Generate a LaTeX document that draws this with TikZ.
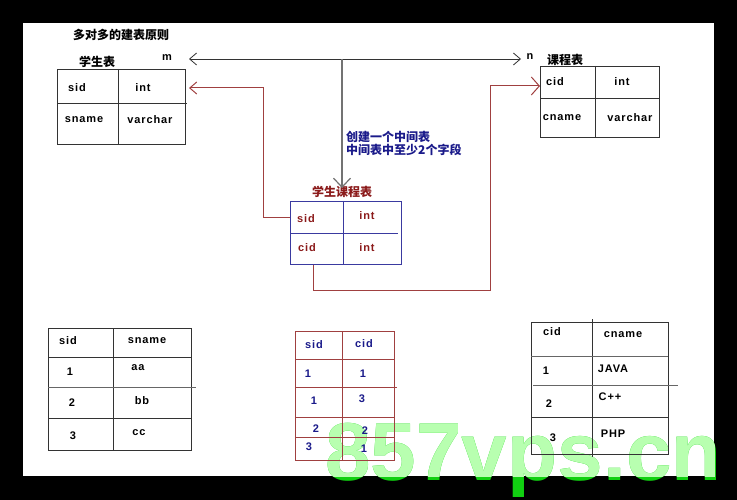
\documentclass[tikz,border=0pt]{standalone}
\usepackage{fontspec}
\setmainfont{Liberation Sans}[LetterSpace=8]
\newfontfamily\cjk{Noto Sans CJK SC}
\newfontfamily\wmfont{Liberation Sans}
\usetikzlibrary{arrows.meta,calc}
\definecolor{redt}{HTML}{8B1A1A}
\definecolor{redl}{HTML}{A04040}
\definecolor{bluet}{HTML}{1A1A8A}
\definecolor{bluel}{HTML}{3A3AA0}
\definecolor{wmdark}{HTML}{11D011}
\definecolor{wmlight}{HTML}{B8FFB0}
\definecolor{linec}{HTML}{333333}
\tikzset{
  tbl/.style={draw=#1, line width=1pt, anchor=north west, inner sep=0pt},
  gl/.style={draw=#1, line width=1pt},
  cell/.style={font=\fontsize{11}{13}\selectfont\bfseries, inner sep=0pt},
  cjkt/.style={font=\cjk\fontsize{12}{14}\selectfont\bfseries, inner sep=0pt},
  rc/.style={draw=redl, line width=1pt},
  smallbarb/.style={-{Straight Barb[length=7pt,width=12pt]}},
  wmtext/.style={font=\wmfont\fontsize{82}{82}\selectfont\bfseries, anchor=base west, inner sep=0pt}
}
\begin{document}
\begin{tikzpicture}[x=1pt,y=-1pt]
\fill[black] (0,0) rectangle (737,500);
\fill[white] (23,23) rectangle (714,476);
\useasboundingbox (0,0) rectangle (737,500);

% watermark
\node[wmtext, text=wmdark] (wm) at (325,480) {857vps.cn};
\begin{scope}
\clip (23,23) rectangle (714,476);
\node[wmtext, text=wmlight] (wm2) at (325,480) {857vps.cn};
\end{scope}

% titles
\node[cjkt] (title) at (121,35) {多对多的建表原则};
\node[cjkt] (sttitle) at (97,62) {学生表};
\node[cell] (m) at (167,58) {m};
\node[cell] (n) at (530,57) {n};
\node[cjkt] (cttitle) at (565,60) {课程表};

% student table
\node[tbl=linec, minimum width=128pt, minimum height=75pt] (st) at (57,69) {};
\draw[gl=linec] (118,69) -- (118,144);
\draw[gl=linec] (57,104) -- (187,104);
\node[cell] (st11) at (77,88) {sid};
\node[cell] (st12) at (143,88) {int};
\node[cell] (st21) at (84,120) {sname};
\node[cell] (st22) at (150,120) {varchar};

% course table
\node[tbl=linec, minimum width=119pt, minimum height=71pt] (ct) at (540,66) {};
\draw[gl=linec] (595,66) -- (595,137);
\draw[gl=linec] (540,99) -- (659,99);
\node[cell] (ct11) at (555,82) {cid};
\node[cell] (ct12) at (622,82) {int};
\node[cell] (ct21) at (562,118) {cname};
\node[cell] (ct22) at (630,118) {varchar};

% m-n arrow
\coordinate (aL) at (189,59);
\coordinate (aR) at (521,59);
\draw[line width=0.8pt, draw=linec, {Straight Barb[length=7pt,width=12pt]}-{Straight Barb[length=7pt,width=12pt]}] (aL) -- (aR);

% note
\node[anchor=north west, align=left, inner sep=0pt, text=bluet,
  font=\cjk\fontsize{12}{11.5}\selectfont\bfseries] (note) at (346,131) {创建一个中间表\\中间表中至少2个字段};

% middle table
\node[cjkt, text=redt] (mtitle) at (342,192) {学生课程表};
\coordinate (vtop) at (342,59);
\draw[line width=1.2pt, draw=black!55, -{Straight Barb[length=9pt,width=17pt]}] (vtop) -- ($(mtitle.north)+(0,2)$);

\node[tbl=bluel, minimum width=111pt, minimum height=63pt] (mid) at (290,201) {};
\draw[gl=bluel] (343,201) -- (343,264);
\draw[gl=bluel] (290,234) -- (398,234);
\node[cell, text=redt] (md11) at (306,219) {sid};
\node[cell, text=redt] (md12) at (367,216) {int};
\node[cell, text=redt] (md21) at (307,248) {cid};
\node[cell, text=redt] (md22) at (367,248) {int};

% red connectors
\draw[rc, smallbarb] ($(mid.north west)+(0,17)$) -- ++(-27,0) |- ($(st.north east)+(3,19)$);
\draw[rc, -{Straight Barb[length=8pt,width=18pt]}] ($(mid.south west)+(23,0)$) -- ++(0,25) -| ($(ct.north west)+(-50,20)$) -- ($(ct.north west)+(0,20)$);

% bottom-left table
\node[tbl=linec, minimum width=143pt, minimum height=122pt] (bl) at (48,328) {};
\draw[gl=linec] (113,328) -- (113,450);
\draw[gl=linec] (48,357) -- (191,357);
\draw[gl=black!60] (48,387) -- (196,387);
\draw[gl=linec] (48,418) -- (191,418);
\node[cell] (bl01) at (68,341) {sid};
\node[cell] (bl02) at (147,341) {sname};
\node[cell] (bl11) at (70,372) {1};
\node[cell] (bl12) at (138,368) {aa};
\node[cell] (bl21) at (72,403) {2};
\node[cell] (bl22) at (142,401) {bb};
\node[cell] (bl31) at (73,436) {3};
\node[cell] (bl32) at (139,433) {cc};

% bottom-middle table
\node[tbl=redl, minimum width=99pt, minimum height=129pt] (bm) at (295,331) {};
\draw[gl=redl] (342,331) -- (342,460);
\draw[gl=redl] (295,359) -- (394,359);
\draw[gl=redl] (295,387) -- (397,387);
\draw[gl=redl] (295,417) -- (394,417);
\draw[gl=redl] (295,437) -- (394,437);
\node[cell, text=bluet] (bm01) at (314,345) {sid};
\node[cell, text=bluet] (bm02) at (364,344) {cid};
\node[cell, text=bluet] (bm11) at (308,374) {1};
\node[cell, text=bluet] (bm12) at (363,374) {1};
\node[cell, text=bluet] (bm21) at (314,401) {1};
\node[cell, text=bluet] (bm22) at (362,399) {3};
\node[cell, text=bluet] (bm31) at (316,429) {2};
\node[cell, text=bluet] (bm32) at (365,431) {2};
\node[cell, text=bluet] (bm41) at (309,447) {3};
\node[cell, text=bluet] (bm42) at (364,449) {1};

% bottom-right table
\node[tbl=linec, minimum width=137pt, minimum height=132pt] (br) at (531,322) {};
\draw[gl=linec] (592,319) -- (592,457);
\draw[gl=black!60] (531,356) -- (668,356);
\draw[gl=black!60] (533,385) -- (678,385);
\draw[gl=linec] (531,417) -- (668,417);
\node[cell] (br01) at (552,332) {cid};
\node[cell] (br02) at (623,335) {cname};
\node[cell] (br11) at (546,371) {1};
\node[cell] (br12) at (613,369) {JAVA};
\node[cell] (br21) at (549,404) {2};
\node[cell] (br22) at (610,397) {C++};
\node[cell] (br31) at (553,438) {3};
\node[cell] (br32) at (613,434) {PHP};
\end{tikzpicture}
\end{document}
